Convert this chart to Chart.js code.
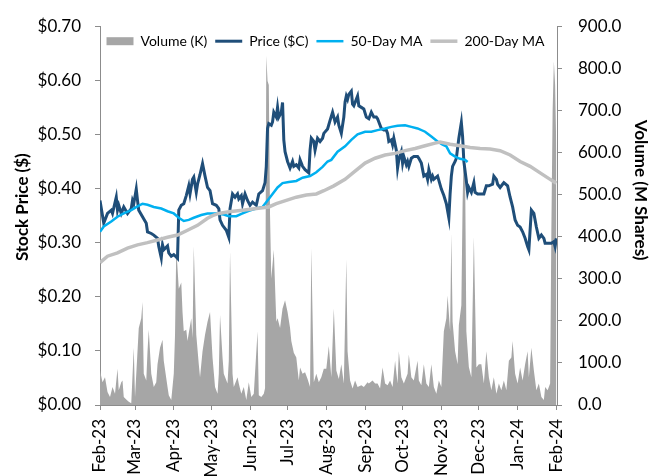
<!DOCTYPE html>
<html>
<head>
<meta charset="utf-8">
<script src="https://cdn.jsdelivr.net/npm/chart.js@4"></script>
<style>
  html, body { margin: 0; padding: 0; background: #fff; }
  #wrap { width: 651px; height: 476px; }
</style>
</head>
<body>
<div id="wrap"><canvas id="chart" width="651" height="476"></canvas></div>
<script>
// x values are days counted from 1 Feb 2023
const monthDays = [0, 28, 59, 89, 120, 150, 181, 212, 242, 273, 303, 334, 365];
const monthLabels = ['Feb-23', 'Mar-23', 'Apr-23', 'May-23', 'Jun-23', 'Jul-23', 'Aug-23',
                     'Sep-23', 'Oct-23', 'Nov-23', 'Dec-23', 'Jan-24', 'Feb-24'];

const priceDays = [0, 3, 6, 9, 10, 13, 14, 15, 17, 19, 22, 25, 26, 27, 29, 30, 31, 34, 37, 38,
  41, 43, 46, 47, 49, 50, 51, 54, 55, 57, 59, 62, 63, 65, 67, 69, 71, 72, 74, 75,
  77, 78, 80, 82, 84, 86, 88, 90, 93, 95, 96, 98, 101, 103, 104, 106, 108, 110, 111, 113,
  114, 116, 118, 120, 122, 125, 127, 130, 132, 133, 134, 135, 137, 138, 139, 141, 142, 143, 145, 146,
  147, 148, 150, 152, 154, 155, 157, 159, 160, 162, 164, 167, 168, 169, 171, 172, 174, 176, 178, 179,
  182, 184, 186, 188, 190, 191, 193, 195, 196, 197, 198, 199, 201, 202, 203, 205, 206, 207, 209, 211,
  213, 215, 217, 219, 221, 222, 223, 225, 227, 229, 230, 231, 233, 234, 235, 237, 238, 239, 241, 242,
  243, 245, 246, 247, 249, 251, 254, 255, 257, 259, 261, 262, 263, 265, 266, 267, 270, 271, 273, 275,
  277, 279, 280, 281, 282, 284, 285, 287, 289, 290, 291, 293, 294, 295, 297, 299, 300, 302, 305, 307,
  309, 311, 314, 315, 317, 318, 320, 322, 323, 326, 328, 330, 331, 332, 334, 336, 338, 340, 342, 343,
  345, 347, 349, 351, 353, 355, 356, 358, 361, 363, 364, 365];
const price = [0.378, 0.336, 0.354, 0.360, 0.354, 0.384, 0.360, 0.369, 0.354, 0.366, 0.354, 0.363, 0.378, 0.372, 0.399, 0.378, 0.360, 0.348, 0.336, 0.320,
  0.317, 0.314, 0.308, 0.293, 0.272, 0.296, 0.287, 0.294, 0.281, 0.275, 0.278, 0.271, 0.360, 0.369, 0.372, 0.387, 0.405, 0.390, 0.417, 0.421,
  0.393, 0.408, 0.426, 0.446, 0.423, 0.402, 0.396, 0.372, 0.369, 0.363, 0.342, 0.332, 0.323, 0.310, 0.363, 0.390, 0.384, 0.390, 0.381, 0.387,
  0.372, 0.390, 0.378, 0.369, 0.375, 0.369, 0.390, 0.396, 0.411, 0.441, 0.511, 0.520, 0.517, 0.523, 0.541, 0.532, 0.550, 0.532, 0.541, 0.559,
  0.490, 0.468, 0.450, 0.438, 0.450, 0.441, 0.444, 0.438, 0.453, 0.441, 0.435, 0.429, 0.471, 0.493, 0.487, 0.471, 0.493, 0.487, 0.493, 0.502,
  0.510, 0.526, 0.541, 0.523, 0.532, 0.517, 0.502, 0.532, 0.560, 0.571, 0.565, 0.574, 0.580, 0.556, 0.553, 0.565, 0.571, 0.553, 0.550, 0.547,
  0.532, 0.529, 0.541, 0.532, 0.532, 0.529, 0.523, 0.511, 0.508, 0.508, 0.502, 0.487, 0.490, 0.481, 0.493, 0.471, 0.438, 0.453, 0.468, 0.447,
  0.459, 0.444, 0.450, 0.441, 0.456, 0.459, 0.459, 0.456, 0.447, 0.423, 0.426, 0.417, 0.435, 0.417, 0.423, 0.417, 0.423, 0.415, 0.399, 0.387,
  0.372, 0.346, 0.390, 0.423, 0.441, 0.450, 0.456, 0.493, 0.522, 0.496, 0.450, 0.414, 0.393, 0.402, 0.393, 0.411, 0.393, 0.390, 0.390, 0.390,
  0.405, 0.405, 0.408, 0.423, 0.417, 0.408, 0.402, 0.408, 0.411, 0.405, 0.384, 0.366, 0.354, 0.342, 0.332, 0.329, 0.320, 0.308, 0.293, 0.287,
  0.360, 0.354, 0.329, 0.308, 0.314, 0.308, 0.299, 0.299, 0.299, 0.302, 0.293, 0.308];

const ma50Days = [0, 3, 9, 14, 19, 25, 30, 34, 38, 43, 49, 54, 59, 63, 67, 71, 75, 81, 86, 93,
  99, 103, 109, 114, 119, 125, 130, 134, 138, 142, 146, 151, 157, 162, 168, 173, 178, 182, 185, 190,
  196, 201, 206, 212, 217, 222, 228, 233, 238, 244, 249, 254, 260, 265, 270, 274, 277, 280, 284, 288,
  292, 294];
const ma50 = [0.320, 0.330, 0.339, 0.348, 0.354, 0.360, 0.367, 0.372, 0.370, 0.366, 0.363, 0.358, 0.354, 0.346, 0.340, 0.342, 0.346, 0.351, 0.354, 0.354,
  0.352, 0.349, 0.349, 0.354, 0.359, 0.363, 0.366, 0.378, 0.390, 0.402, 0.410, 0.412, 0.414, 0.420, 0.423, 0.430, 0.440, 0.450, 0.453, 0.468,
  0.478, 0.490, 0.500, 0.505, 0.505, 0.508, 0.511, 0.514, 0.516, 0.517, 0.514, 0.511, 0.505, 0.496, 0.487, 0.481, 0.478, 0.465, 0.459, 0.455,
  0.453, 0.449];

const ma200Days = [0, 6, 14, 22, 30, 38, 46, 54, 62, 70, 78, 86, 90, 95, 103, 114, 125, 135, 141, 149,
  157, 165, 173, 179, 187, 196, 204, 212, 220, 228, 236, 244, 252, 260, 268, 272, 280, 288, 296, 304,
  312, 320, 328, 336, 344, 352, 360, 365];
const ma200 = [0.263, 0.275, 0.281, 0.290, 0.296, 0.300, 0.305, 0.310, 0.314, 0.323, 0.332, 0.345, 0.350, 0.354, 0.357, 0.360, 0.363, 0.366, 0.372, 0.378,
  0.384, 0.388, 0.390, 0.396, 0.405, 0.417, 0.432, 0.447, 0.456, 0.462, 0.465, 0.470, 0.474, 0.479, 0.484, 0.486, 0.482, 0.479, 0.476, 0.474,
  0.473, 0.470, 0.462, 0.450, 0.441, 0.429, 0.417, 0.410];

const volumeDays = [0, 2, 4, 6, 8, 10, 12, 14, 15, 17, 18, 19, 21, 23, 25, 27, 28, 30, 31, 33,
  34, 35, 37, 38, 39, 41, 43, 45, 46, 48, 50, 51, 54, 55, 57, 59, 60, 61, 63, 65,
  66, 67, 69, 70, 71, 73, 74, 75, 77, 79, 80, 82, 84, 86, 88, 90, 92, 94, 95, 96,
  98, 99, 102, 103, 104, 106, 107, 110, 111, 113, 115, 117, 119, 121, 123, 126, 127, 129, 131, 132,
  133, 134, 135, 136, 137, 139, 141, 142, 144, 146, 148, 150, 152, 153, 155, 157, 159, 160, 162, 164,
  166, 168, 169, 171, 173, 175, 177, 179, 181, 183, 185, 187, 189, 191, 193, 195, 197, 198, 200, 202,
  204, 206, 209, 211, 214, 215, 218, 220, 222, 224, 226, 228, 230, 232, 234, 236, 238, 239, 241, 243,
  246, 247, 249, 251, 254, 255, 257, 259, 261, 263, 265, 267, 269, 271, 273, 275, 277, 278, 280, 281,
  282, 284, 286, 287, 289, 290, 291, 292, 293, 295, 297, 299, 301, 303, 305, 307, 309, 311, 313, 315,
  317, 319, 321, 323, 325, 327, 329, 330, 332, 334, 336, 338, 340, 342, 343, 345, 347, 349, 351, 353,
  355, 356, 358, 360, 361, 362, 363, 364, 365];
const volume = [82, 54, 66, 31, 19, 43, 27, 86, 35, 54, 58, 19, 13, 8, 4, 136, 19, 128, 183, 206,
  245, 74, 58, 128, 179, 74, 43, 54, 97, 136, 155, 105, 43, 23, 12, 74, 167, 373, 276, 291,
  221, 175, 179, 152, 171, 206, 159, 377, 167, 97, 66, 128, 167, 198, 221, 113, 43, 27, 74, 214,
  113, 74, 51, 105, 365, 74, 43, 66, 51, 27, 43, 12, 54, 19, 27, 175, 23, 19, 27, 40,
  830, 770, 760, 450, 300, 369, 198, 206, 183, 229, 249, 221, 183, 152, 124, 113, 58, 89, 74, 78,
  62, 43, 373, 54, 74, 54, 66, 86, 86, 140, 66, 229, 82, 62, 97, 51, 346, 128, 58, 39,
  58, 43, 47, 43, 54, 51, 58, 51, 51, 39, 89, 51, 47, 58, 43, 105, 51, 128, 66, 51,
  74, 120, 66, 58, 105, 58, 47, 97, 51, 43, 97, 43, 27, 58, 43, 175, 206, 260, 175, 408,
  198, 128, 97, 190, 237, 480, 620, 560, 175, 90, 66, 400, 89, 97, 97, 51, 128, 66, 35, 66,
  27, 51, 35, 58, 35, 105, 113, 152, 74, 51, 89, 58, 97, 128, 66, 136, 82, 35, 51, 19,
  12, 43, 35, 51, 420, 700, 816, 760, 600];

const pairs = (xs, ys) => xs.map((x, i) => ({ x: x, y: ys[i] }));

const axisGray = '#8c8c8c';
Chart.defaults.font.family = 'Lato, "Open Sans", sans-serif';
Chart.defaults.color = '#000';

// legend sits inside the plot area: no layout height, and no clipping to its (empty) box
const legendOverlay = {
  id: 'legendOverlay',
  beforeInit(chart) {
    const legend = chart.legend;
    const fit = legend.fit;
    legend.fit = function () { fit.call(this); this.height = 0; };
    legend.draw = function () { if (this.options.display) this._draw(); };
  }
};

new Chart(document.getElementById('chart'), {
  type: 'line',
  data: {
    datasets: [
      { label: 'Volume (K)', data: pairs(volumeDays, volume), yAxisID: 'y1', fill: 'origin',
        backgroundColor: '#a6a6a6', borderColor: '#a6a6a6', borderWidth: 0, pointRadius: 0, pointStyle: 'rect', order: 4 },
      { label: 'Price ($C)', data: pairs(priceDays, price), yAxisID: 'y',
        borderColor: '#1f4e79', borderWidth: 3, pointRadius: 0, pointStyle: 'line', order: 3 },
      { label: '50-Day MA', data: pairs(ma50Days, ma50), yAxisID: 'y',
        borderColor: '#00b0f0', borderWidth: 2.5, pointRadius: 0, pointStyle: 'line', order: 2 },
      { label: '200-Day MA', data: pairs(ma200Days, ma200), yAxisID: 'y',
        borderColor: '#c0c0c0', borderWidth: 3.5, pointRadius: 0, pointStyle: 'line', order: 1 }
    ]
  },
  options: {
    responsive: false,
    animation: false,
    events: [],
    elements: { line: { tension: 0 } },
    layout: { padding: { top: 19, left: 0, right: 0, bottom: 0 } },
    plugins: {
      tooltip: { enabled: false },
      legend: {
        position: 'top',
        labels: {
          usePointStyle: true, pointStyleWidth: 27, boxHeight: 8, padding: 8,
          font: { size: 14 },
          sort: (a, b) => a.datasetIndex - b.datasetIndex
        }
      }
    },
    scales: {
      x: {
        type: 'linear', min: 0, max: 365.5,
        afterBuildTicks: axis => { axis.ticks = monthDays.map(v => ({ value: v })); },
        afterFit: axis => { axis.height = 71; },
        grid: { drawOnChartArea: false, color: axisGray, tickLength: 5 },
        border: { color: axisGray },
        ticks: { autoSkip: false, maxRotation: 90, minRotation: 90, padding: 9,
                 font: { size: 17 }, callback: (v, i) => monthLabels[i] }
      },
      y: {
        position: 'left', min: 0, max: 0.7,
        afterFit: axis => { axis.width = 100; },
        grid: { drawOnChartArea: false, color: axisGray, tickLength: 5 },
        border: { color: axisGray },
        ticks: { stepSize: 0.1, padding: 14, font: { size: 17 }, callback: v => '$' + v.toFixed(2) },
        title: { display: true, text: '\u2003 Stock Price ($)', font: { size: 17, weight: 'bold' },
                 padding: { top: 12, bottom: 0 } }
      },
      y1: {
        position: 'right', min: 0, max: 900,
        afterFit: axis => { axis.width = 94; },
        grid: { drawOnChartArea: false, color: axisGray, tickLength: 5 },
        border: { color: axisGray },
        ticks: { stepSize: 100, padding: 16, font: { size: 17 }, callback: v => v.toFixed(1) },
        title: { display: true, text: 'Volume (M Shares)\u2003\u2003\u2003\u2003', font: { size: 17, weight: 'bold' },
                 padding: { top: 0, bottom: 0 } }
      }
    }
  },
  plugins: [legendOverlay]
});
</script>
</body>
</html>
